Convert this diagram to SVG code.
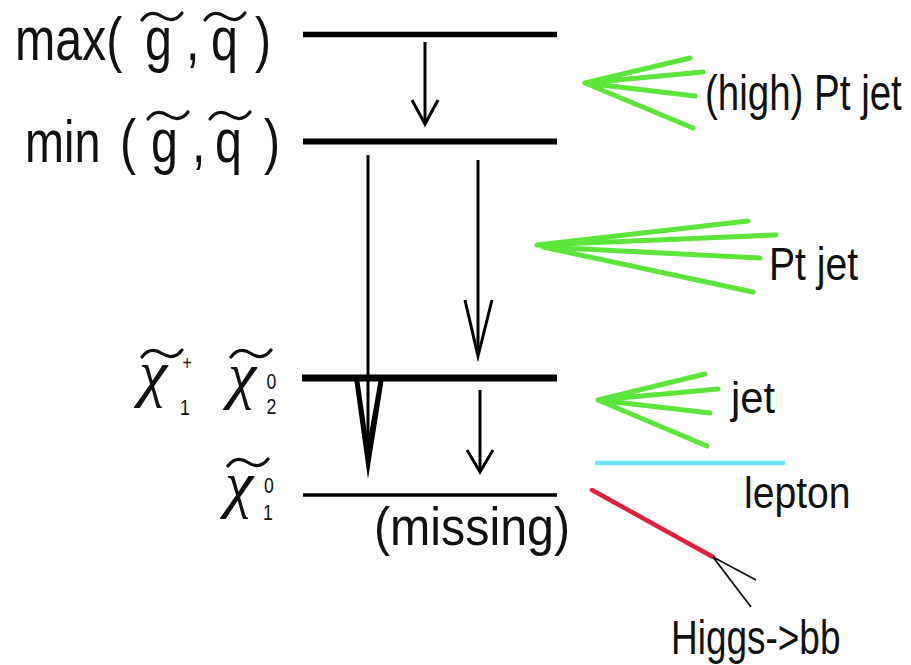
<svg xmlns="http://www.w3.org/2000/svg" width="911" height="665" viewBox="0 0 911 665">
<defs>
<style>
.t{font-family:"Liberation Sans",Arial,sans-serif;fill:#111}
.chi{font-family:"Liberation Serif","Times New Roman",serif;font-style:italic;fill:#111;font-size:64px}
.sub{font-family:"Liberation Sans",Arial,sans-serif;fill:#111;font-size:22px}
.lvl{stroke:#000;fill:none}
.arr{stroke:#000;stroke-width:3;fill:none;stroke-miterlimit:12}
.jet{stroke:#5ee53c;stroke-width:5;stroke-linecap:round;fill:none}
.tl{stroke:#111;stroke-width:3.2;fill:none;stroke-linecap:round}
</style>
<path id="tilde" d="M0,7 C6,-1 13,-1 20,3.5 C27,8 34,8 40,0"/>
</defs>
<rect width="911" height="665" fill="#fff"/>

<g id="label-max">
<g transform="scale(0.78,1)">
<text class="t" x="19.2" y="60" font-size="62">max(</text>
<text class="t" x="185.9" y="60" font-size="62">g</text>
<text class="t" x="238.5" y="60" font-size="62">,</text>
<text class="t" x="270.5" y="60" font-size="62">q</text>
<text class="t" x="326.9" y="60" font-size="62">)</text>
</g>
<use href="#tilde" class="tl" transform="translate(142,13)"/>
<use href="#tilde" class="tl" transform="translate(205,13)"/>
</g>

<g id="label-min">
<g transform="scale(0.78,1)">
<text class="t" x="32.1" y="162" font-size="60">min</text>
<text class="t" x="153.8" y="162" font-size="62">(</text>
<text class="t" x="193.6" y="162" font-size="62">g</text>
<text class="t" x="246.2" y="162" font-size="62">,</text>
<text class="t" x="275.6" y="162" font-size="62">q</text>
<text class="t" x="338.5" y="162" font-size="62">)</text>
</g>
<use href="#tilde" class="tl" transform="translate(148,112)"/>
<use href="#tilde" class="tl" transform="translate(210,112)"/>
</g>

<g id="label-chargino">
<text class="chi" x="139" y="394">χ</text>
<use href="#tilde" class="tl" transform="translate(142,350)"/>
<g transform="scale(0.8,1)">
<text class="sub"><tspan x="228" y="370" font-size="20">+</tspan><tspan x="225" y="415">1</tspan></text>
</g>
</g>

<g id="label-neutralino2">
<text class="chi" x="228" y="396">χ</text>
<use href="#tilde" class="tl" transform="translate(231,350)"/>
<g transform="scale(0.8,1)">
<text class="sub"><tspan x="333" y="389">0</tspan><tspan x="333" y="414">2</tspan></text>
</g>
</g>

<g id="label-neutralino1">
<text class="chi" x="225" y="505">χ</text>
<use href="#tilde" class="tl" transform="translate(228,459)"/>
<g transform="scale(0.8,1)">
<text class="sub"><tspan x="330" y="493">0</tspan><tspan x="328.7" y="520">1</tspan></text>
</g>
</g>

<g id="level-max"><line class="lvl" x1="303" y1="34.5" x2="557" y2="34.5" stroke-width="5.5"/></g>
<g id="level-min"><line class="lvl" x1="303" y1="141.5" x2="557" y2="141.5" stroke-width="6"/></g>
<g id="level-chi2"><line class="lvl" x1="302" y1="378" x2="557" y2="378" stroke-width="7"/></g>
<g id="level-chi1"><line class="lvl" x1="303" y1="495" x2="557" y2="495" stroke-width="3.5"/></g>

<g id="missing"><text class="t" font-size="54" transform="translate(374,545) scale(0.895,1)">(missing)</text></g>

<g id="connectors">
<line class="arr" x1="425" y1="42" x2="425" y2="123"/>
<path class="arr" d="M412,100 L425,124 L438,100"/>
<line class="arr" x1="368" y1="155" x2="368" y2="445"/>
<path d="M354,378 L368,479 L384,378 L379,378 L368,440 L359,378 Z" fill="#000"/>
<line class="arr" x1="478" y1="160" x2="478" y2="352"/>
<path class="arr" d="M465,300 L478,356 L492,300" stroke-width="4.5"/>
<line class="arr" x1="480" y1="390" x2="480" y2="470"/>
<path class="arr" d="M467,450 L480,472 L493,450"/>
</g>

<g id="jet-high">
<path class="jet" d="M585,83 L690,58 M585,83 L703,72 M585,83 L695,96 M585,83 L693,128"/>
<text class="t" font-size="50" transform="translate(705,110) scale(0.77,1)">(high) Pt jet</text>
</g>

<g id="jet-pt">
<path class="jet" d="M537,245 L748,221 M537,245 L776,235 M543,247 L760,258 M543,247 L753,292"/>
<text class="t" font-size="46" transform="translate(769,280) scale(0.85,1)">Pt jet</text>
</g>

<g id="jet-soft">
<path class="jet" d="M598,400 L705,374 M598,400 L718,389 M598,400 L710,413 M598,400 L707,446"/>
<text class="t" font-size="44" transform="translate(731,413) scale(0.95,1)">jet</text>
</g>

<g id="lepton">
<line x1="595" y1="463" x2="785" y2="463" stroke="#6fe6f5" stroke-width="4.5"/>
<text class="t" font-size="45" transform="translate(744,508) scale(0.87,1)">lepton</text>
</g>

<g id="higgs">
<line x1="592" y1="490" x2="713" y2="557" stroke="#e0203c" stroke-width="4.5" stroke-linecap="round"/>
<path d="M713,557 L756,580 M713,557 L751,607" stroke="#111" stroke-width="1.8" fill="none"/>
<text class="t" font-size="48" transform="translate(671,654) scale(0.77,1)">Higgs-&gt;bb</text>
</g>
</svg>
